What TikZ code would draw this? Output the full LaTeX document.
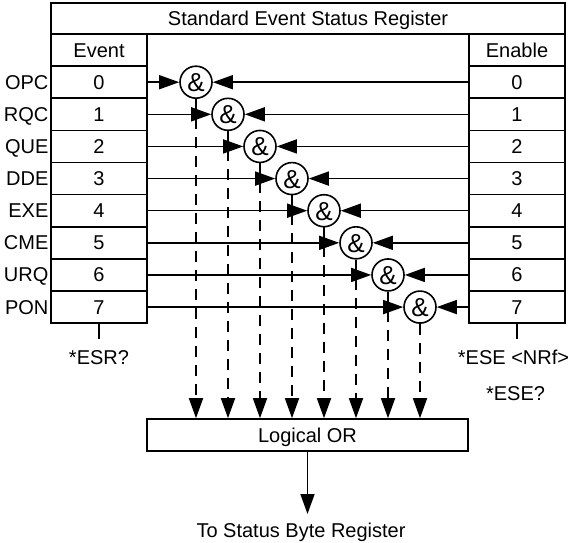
\documentclass[tikz,border=0pt]{standalone}
\usepackage{fontspec}
\setmainfont{Liberation Sans}
\usetikzlibrary{arrows.meta,positioning}

\begin{document}
\begin{tikzpicture}[x=1pt,y=-1pt,font=\fontsize{20}{24}\selectfont,line width=1.6pt,
    cell/.style={draw,minimum width=96pt,minimum height=32.125pt,inner sep=0pt,text height=14pt,text depth=0pt},
    gate/.style={draw,circle,minimum size=32pt,inner sep=0pt,font=\fontsize{26}{26}\selectfont,text height=19pt,text depth=0pt},
    tip/.style={-{Triangle[length=20pt,width=14pt]}},
    orline/.style={tip,dash pattern=on 11pt off 8pt},
    lbl/.style={inner sep=0pt,anchor=base}]
    \useasboundingbox (0,0) rectangle (572,542);
    \node[cell,minimum width=514pt,minimum height=31pt] (title) at (308,18.5) {Standard Event Status Register};
    \node[cell] (evhead) at (99,50.06) {Event};
    \node[cell] (enhead) at (517,50.06) {Enable};
    \node[cell,minimum width=321pt,minimum height=32pt] (lor) at (307.5,435) {Logical OR};
    % one row per status bit
    \foreach \n [count=\i from 0] in {OPC,RQC,QUE,DDE,EXE,CME,URQ,PON} {
        \node[cell] (ev\i) at (99,{82.19+32.125*\i}) {\i};
        \node[cell] (en\i) at (517,{82.19+32.125*\i}) {\i};
        \node[anchor=east,inner xsep=1pt,inner ysep=0pt,text height=14pt,text depth=0pt] (nm\i) at (ev\i.west) {\n};
        \node[gate] (and\i) at ({196+32*\i},{82.19+32.125*\i}) {\&};
        \draw[tip] (ev\i) -- (and\i);
        \draw[tip] (en\i) -- (and\i);
        \draw[orline] (and\i) -- (and\i |- lor.north);
    }
    % queries below the registers
    \coordinate (esrq) at (99,339);
    \coordinate (eseq) at (517,339);
    \draw (ev7) -- (esrq);
    \draw (en7) -- (eseq);
    \node[lbl] (esr) at (99,364) {*ESR?};
    \node[lbl] (ese) at (513.5,364) {*ESE <NRf>};
    \node[lbl] (eseask) at (515.5,400) {*ESE?};
    % output
    \coordinate (sbr) at (307.5,514);
    \draw[tip] (lor) -- (sbr);
    \node[lbl] (sbrtext) at (301,537) {To Status Byte Register};
\end{tikzpicture}
\end{document}
